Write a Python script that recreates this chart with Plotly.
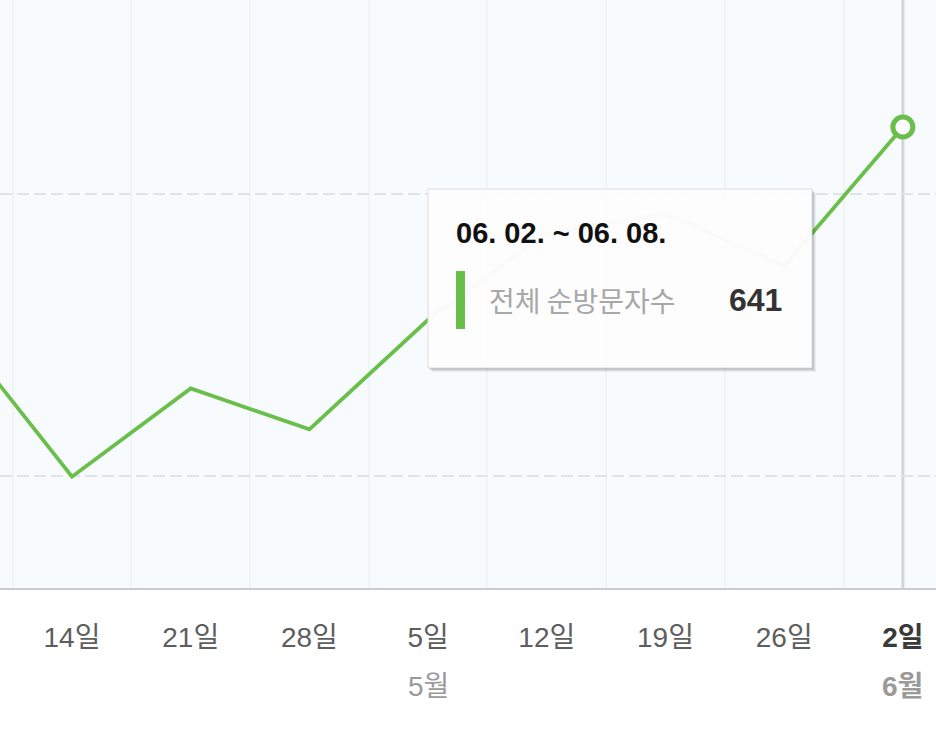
import plotly.graph_objects as go

# ---- data ----
day_labels = ["7일", "14일", "21일", "28일", "5일", "12일", "19일", "26일", "2일"]
month_labels = ["4월", "", "", "", "5월", "", "", "", "6월"]
visitors = [519, 427, 481, 456, 523, 576, 588, 556, 641]
series_name = "전체 순방문자수"
hover_range = "06. 02. ~ 06. 08."
grid_values = [427.4, 600]

x_idx = list(range(len(day_labels)))
last = len(day_labels) - 1

GREEN = "#6abf4b"
FONT = "Liberation Sans, Noto Sans CJK KR, sans-serif"

W, H = 936, 745
PLOT_BOTTOM = 588

x_range = [0.3934, 8.279]
y_range = [358.9, 718.7]

ticktext = []
for i, d in enumerate(day_labels):
    if i == last:
        ticktext.append("<b><span style='color:#3a3a3a'>%s</span></b>" % d)
    else:
        ticktext.append(d)

fig = go.Figure()
fig.add_trace(go.Scatter(
    x=x_idx, y=visitors, mode="lines",
    line=dict(color=GREEN, width=3.8),
    hoverinfo="skip", showlegend=False,
))
fig.add_trace(go.Scatter(
    x=[x_idx[last]], y=[visitors[last]], mode="markers",
    marker=dict(size=20, color="white", line=dict(color=GREEN, width=5)),
    hoverinfo="skip", showlegend=False,
))

fig.update_layout(
    width=W, height=H,
    margin=dict(l=0, r=0, t=0, b=H - PLOT_BOTTOM),
    paper_bgcolor="white",
    plot_bgcolor="#f7fbfe",
    font=dict(family=FONT),
    xaxis=dict(
        range=x_range, tickmode="array", tickvals=x_idx, ticktext=ticktext,
        showgrid=False, zeroline=False,
        showline=True, linecolor="#c9cbce", linewidth=2,
        ticks="", ticklabelstandoff=23,
        tickfont=dict(size=28, color="#5e5e5e", family=FONT),
        minor=dict(tick0=0.5, dtick=1, showgrid=True, gridcolor="#eef4f8", gridwidth=2, ticks=""),
    ),
    yaxis=dict(
        range=y_range, tickmode="array", tickvals=grid_values,
        showticklabels=False, zeroline=False,
        showgrid=True, gridcolor="#e1e4e7", gridwidth=2, griddash="12px,5px",
    ),
)

# hover crosshair
fig.add_shape(type="line", xref="x", yref="paper", x0=x_idx[last], x1=x_idx[last], y0=0, y1=1,
              line=dict(color="#d2d5d9", width=3), layer="below")

# month labels
for i, m in enumerate(month_labels):
    if m and x_range[0] <= x_idx[i] <= x_range[1]:
        txt = "<b>%s</b>" % m if i == last else m
        fig.add_annotation(x=x_idx[i], xref="x", y=(PLOT_BOTTOM - 686) / PLOT_BOTTOM, yref="paper",
                           text=txt, showarrow=False, xanchor="center", yanchor="middle",
                           font=dict(size=28, color="#9a9a9a", family=FONT))

# tooltip
def px(x):
    return x / W

def py(y):
    return (PLOT_BOTTOM - y) / PLOT_BOTTOM

for off, op in [(4, 0.05), (3, 0.07), (2, 0.09), (1, 0.12)]:
    fig.add_shape(type="rect", xref="paper", yref="paper",
                  x0=px(428 + off), x1=px(812 + off), y0=py(368 + off), y1=py(189 + off),
                  line=dict(width=0), fillcolor="rgba(0,0,0,%s)" % op, layer="above")
fig.add_shape(type="rect", xref="paper", yref="paper",
              x0=px(428), x1=px(812), y0=py(368), y1=py(189),
              line=dict(color="#dcdcdc", width=1), fillcolor="rgba(255,255,255,0.97)", layer="above")
fig.add_shape(type="rect", xref="paper", yref="paper",
              x0=px(456), x1=px(465), y0=py(329), y1=py(271),
              line=dict(width=0), fillcolor=GREEN, layer="above")

fig.add_annotation(x=px(454), y=py(233), xref="paper", yref="paper", text="<b>%s</b>" % hover_range,
                   showarrow=False, xanchor="left", yanchor="middle",
                   font=dict(size=29, color="#111111", family=FONT))
fig.add_annotation(x=px(487), y=py(300), xref="paper", yref="paper", text=series_name,
                   showarrow=False, xanchor="left", yanchor="middle",
                   font=dict(size=28, color="#a8a8a8", family="Noto Sans CJK KR, sans-serif"))
fig.add_annotation(x=px(784), y=py(300), xref="paper", yref="paper", text="<b>%d</b>" % visitors[last],
                   showarrow=False, xanchor="right", yanchor="middle",
                   font=dict(size=32, color="#333333", family=FONT))

fig.write_html("out.html", config={"displayModeBar": False},
               post_script="document.body.style.margin='0';")
